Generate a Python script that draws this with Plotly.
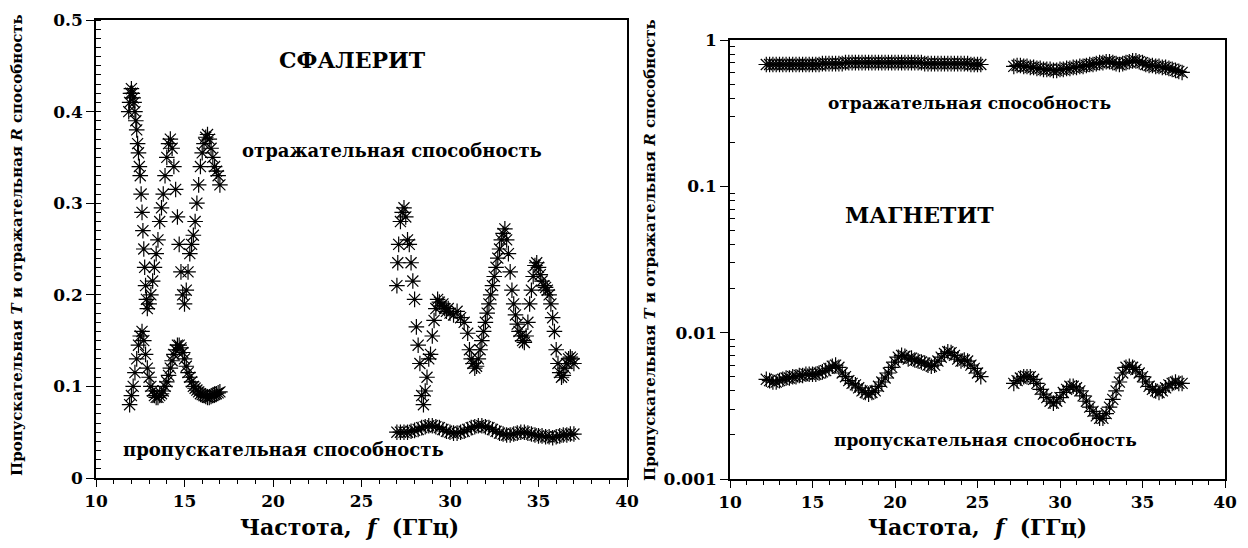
import plotly.graph_objects as go

# ---------------- DATA ----------------
# Sphalerite (left panel) - reflectance R, band 1
sph_R1_f = [11.85, 11.9, 11.95, 12.0, 12.05, 12.1, 12.15, 12.2, 12.25, 12.3, 12.35, 12.4, 12.45, 12.5,
            12.55, 12.6, 12.65, 12.7, 12.75, 12.8, 12.85, 12.9, 13.0, 13.1, 13.2, 13.3, 13.4, 13.5, 13.6,
            13.7, 13.8, 13.9, 14.0, 14.1, 14.2, 14.3, 14.4, 14.5, 14.6, 14.7, 14.8, 14.9, 15.0, 15.1, 15.2,
            15.3, 15.4, 15.5, 15.6, 15.7, 15.8, 15.9, 16.0, 16.1, 16.2, 16.3, 16.4, 16.5, 16.6, 16.7, 16.8,
            16.9, 17.0]
sph_R1_v = [0.40, 0.41, 0.42, 0.425, 0.42, 0.415, 0.41, 0.40, 0.39, 0.38, 0.365, 0.355, 0.34, 0.33,
            0.31, 0.29, 0.27, 0.25, 0.23, 0.21, 0.195, 0.185, 0.19, 0.20, 0.215, 0.23, 0.245, 0.26, 0.28,
            0.295, 0.31, 0.33, 0.35, 0.365, 0.37, 0.36, 0.34, 0.315, 0.285, 0.255, 0.225, 0.20, 0.19, 0.205,
            0.225, 0.245, 0.255, 0.265, 0.28, 0.30, 0.32, 0.34, 0.355, 0.365, 0.372, 0.375, 0.37, 0.36, 0.35,
            0.34, 0.335, 0.33, 0.32]

# Sphalerite - transmission T, band 1
sph_T1_f = [11.9, 12.0, 12.1, 12.2, 12.3, 12.4, 12.5, 12.6, 12.7, 12.8, 12.9, 13.0, 13.1, 13.2, 13.3,
            13.4, 13.5, 13.6, 13.7, 13.8, 13.9, 14.0, 14.1, 14.2, 14.3, 14.4, 14.5, 14.6, 14.7, 14.8, 14.9,
            15.0, 15.1, 15.2, 15.3, 15.4, 15.5, 15.6, 15.7, 15.8, 15.9, 16.0, 16.1, 16.2, 16.3, 16.4, 16.5,
            16.6, 16.7, 16.8, 16.9, 17.0]
sph_T1_v = [0.08, 0.09, 0.10, 0.115, 0.13, 0.145, 0.155, 0.16, 0.15, 0.135, 0.12, 0.11, 0.10, 0.095,
            0.09, 0.088, 0.088, 0.09, 0.092, 0.095, 0.10, 0.105, 0.112, 0.12, 0.128, 0.135, 0.14, 0.145,
            0.145, 0.142, 0.137, 0.13, 0.122, 0.115, 0.11, 0.105, 0.10, 0.098, 0.096, 0.094, 0.092, 0.091,
            0.09, 0.089, 0.088, 0.088, 0.089, 0.09, 0.091, 0.092, 0.093, 0.094]

# Sphalerite - reflectance R, band 2
sph_R2_f = [27.0, 27.05, 27.1, 27.2, 27.3, 27.4, 27.5, 27.6, 27.7, 27.8, 27.9, 28.0, 28.1, 28.2, 28.3,
            28.4, 28.5, 28.6, 28.7, 28.8, 28.9, 29.0, 29.1, 29.2, 29.3, 29.4, 29.5, 29.6, 29.7, 29.8, 29.9,
            30.0, 30.2, 30.4, 30.6, 30.8, 31.0, 31.1, 31.2, 31.3, 31.4, 31.5, 31.6, 31.7, 31.8, 31.9, 32.0,
            32.1, 32.2, 32.3, 32.4, 32.5, 32.6, 32.7, 32.8, 32.9, 33.0, 33.1, 33.2, 33.3, 33.4, 33.5, 33.6,
            33.7, 33.8, 33.9, 34.0, 34.1, 34.2, 34.3, 34.4, 34.5, 34.6, 34.7, 34.8, 34.9, 35.0, 35.1, 35.2,
            35.3, 35.4, 35.5, 35.6, 35.7, 35.8, 35.9, 36.0, 36.1, 36.2, 36.3, 36.4, 36.5, 36.6, 36.7, 36.8,
            36.9, 37.0]
sph_R2_v = [0.21, 0.235, 0.255, 0.28, 0.29, 0.295, 0.285, 0.26, 0.255, 0.235, 0.215, 0.195, 0.165, 0.145,
            0.125, 0.09, 0.08, 0.095, 0.11, 0.13, 0.135, 0.155, 0.172, 0.185, 0.195, 0.192, 0.188, 0.19,
            0.185, 0.182, 0.185, 0.18, 0.178, 0.182, 0.175, 0.17, 0.158, 0.14, 0.13, 0.125, 0.12, 0.122,
            0.13, 0.14, 0.15, 0.16, 0.17, 0.18, 0.19, 0.20, 0.21, 0.22, 0.23, 0.24, 0.25, 0.26, 0.267, 0.272,
            0.26, 0.245, 0.225, 0.205, 0.19, 0.178, 0.168, 0.16, 0.155, 0.15, 0.148, 0.155, 0.17, 0.19,
            0.205, 0.22, 0.232, 0.235, 0.23, 0.222, 0.215, 0.21, 0.208, 0.205, 0.20, 0.19, 0.175, 0.16,
            0.14, 0.125, 0.115, 0.11, 0.112, 0.12, 0.125, 0.13, 0.132, 0.13, 0.125]

# Sphalerite - transmission T, band 2
sph_T2_f = [27.0, 27.2, 27.4, 27.6, 27.8, 28.0, 28.2, 28.4, 28.6, 28.8, 29.0, 29.2, 29.4, 29.6, 29.8,
            30.0, 30.2, 30.4, 30.6, 30.8, 31.0, 31.2, 31.4, 31.6, 31.8, 32.0, 32.2, 32.4, 32.6, 32.8, 33.0,
            33.2, 33.4, 33.6, 33.8, 34.0, 34.2, 34.4, 34.6, 34.8, 35.0, 35.2, 35.4, 35.6, 35.8, 36.0, 36.2,
            36.4, 36.6, 36.8, 37.0]
sph_T2_v = [0.05, 0.05, 0.05, 0.05, 0.051, 0.052, 0.053, 0.055, 0.056, 0.057, 0.057, 0.056, 0.055, 0.053,
            0.051, 0.05, 0.049, 0.049, 0.05, 0.051, 0.053, 0.055, 0.056, 0.057, 0.057, 0.056, 0.055, 0.053,
            0.051, 0.049, 0.048, 0.047, 0.047, 0.048, 0.049, 0.05, 0.05, 0.049, 0.048, 0.047, 0.046, 0.046,
            0.045, 0.045, 0.044, 0.045, 0.046, 0.047, 0.047, 0.048, 0.048]

# Magnetite (right panel) - band 1 frequencies
mag_1_f = [12.2, 12.4, 12.6, 12.8, 13.0, 13.2, 13.4, 13.6, 13.8, 14.0, 14.2, 14.4, 14.6, 14.8, 15.0,
           15.2, 15.4, 15.6, 15.8, 16.0, 16.2, 16.4, 16.6, 16.8, 17.0, 17.2, 17.4, 17.6, 17.8, 18.0, 18.2,
           18.4, 18.6, 18.8, 19.0, 19.2, 19.4, 19.6, 19.8, 20.0, 20.2, 20.4, 20.6, 20.8, 21.0, 21.2, 21.4,
           21.6, 21.8, 22.0, 22.2, 22.4, 22.6, 22.8, 23.0, 23.2, 23.4, 23.6, 23.8, 24.0, 24.2, 24.4, 24.6,
           24.8, 25.0, 25.2]
mag_R1_v = [0.68, 0.68, 0.68, 0.68, 0.68, 0.68, 0.68, 0.68, 0.68, 0.68, 0.68, 0.68, 0.68, 0.68, 0.68,
            0.68, 0.68, 0.69, 0.69, 0.69, 0.69, 0.69, 0.69, 0.69, 0.70, 0.70, 0.70, 0.70, 0.70, 0.70, 0.70,
            0.70, 0.70, 0.70, 0.70, 0.70, 0.70, 0.70, 0.70, 0.70, 0.70, 0.70, 0.70, 0.70, 0.70, 0.70, 0.70,
            0.70, 0.69, 0.69, 0.69, 0.69, 0.69, 0.69, 0.69, 0.69, 0.69, 0.69, 0.69, 0.69, 0.69, 0.69, 0.68,
            0.68, 0.68, 0.68]
mag_T1_v = [0.0048, 0.0047, 0.0046, 0.0046, 0.0047, 0.0048, 0.0049, 0.0049, 0.005, 0.005, 0.0051, 0.0051,
            0.0052, 0.0052, 0.0052, 0.0052, 0.0053, 0.0054, 0.0055, 0.0057, 0.0059, 0.006, 0.0058, 0.0053,
            0.005, 0.0047, 0.0045, 0.0044, 0.0042, 0.004, 0.0039, 0.0038, 0.0039, 0.004, 0.0043, 0.0046,
            0.0049, 0.0053, 0.0058, 0.0063, 0.0068, 0.007, 0.0069, 0.0066, 0.0067, 0.0065, 0.0064, 0.0063,
            0.0062, 0.006, 0.0059, 0.006, 0.0064, 0.0068, 0.0072, 0.0074, 0.0073, 0.007, 0.0066, 0.0064,
            0.0065, 0.0064, 0.006, 0.0057, 0.0053, 0.005]

# Magnetite - band 2 frequencies
mag_2_f = [27.2, 27.4, 27.6, 27.8, 28.0, 28.2, 28.4, 28.6, 28.8, 29.0, 29.2, 29.4, 29.6, 29.8, 30.0,
           30.2, 30.4, 30.6, 30.8, 31.0, 31.2, 31.4, 31.6, 31.8, 32.0, 32.2, 32.4, 32.6, 32.8, 33.0, 33.2,
           33.4, 33.6, 33.8, 34.0, 34.2, 34.4, 34.6, 34.8, 35.0, 35.2, 35.4, 35.6, 35.8, 36.0, 36.2, 36.4,
           36.6, 36.8, 37.0, 37.2, 37.4]
mag_R2_v = [0.66, 0.67, 0.67, 0.66, 0.66, 0.65, 0.65, 0.64, 0.64, 0.63, 0.63, 0.63, 0.62, 0.62, 0.63,
            0.63, 0.64, 0.64, 0.65, 0.65, 0.66, 0.66, 0.67, 0.68, 0.68, 0.69, 0.70, 0.70, 0.71, 0.71, 0.70,
            0.69, 0.68, 0.69, 0.70, 0.71, 0.72, 0.72, 0.71, 0.70, 0.68, 0.67, 0.67, 0.66, 0.66, 0.65, 0.65,
            0.64, 0.63, 0.62, 0.61, 0.60]
mag_T2_v = [0.0045, 0.0047, 0.0049, 0.005, 0.005, 0.005, 0.0048, 0.0045, 0.0041, 0.0038, 0.0036, 0.0034,
            0.0033, 0.0034, 0.0036, 0.0039, 0.0041, 0.0043, 0.0043, 0.0042, 0.004, 0.0037, 0.0034, 0.0031,
            0.0029, 0.0027, 0.0026, 0.0026, 0.0028, 0.0031, 0.0035, 0.004, 0.0046, 0.0053, 0.0058, 0.0059,
            0.0058, 0.0056, 0.0053, 0.005, 0.0046, 0.0043, 0.0041, 0.004, 0.0039, 0.004, 0.0042, 0.0044,
            0.0045, 0.0046, 0.0045, 0.0045]

left_yticks = [0, 0.1, 0.2, 0.3, 0.4, 0.5]
left_yticklabels = ["0", "0.1", "0.2", "0.3", "0.4", "0.5"]
right_yticks = [0.001, 0.01, 0.1, 1]
right_yticklabels = ["0.001", "0.01", "0.1", "1"]
xticks = [10, 15, 20, 25, 30, 35, 40]
xticklabels = ["10", "15", "20", "25", "30", "35", "40"]

# ---------------- FIGURE ----------------
FONT = "DejaVu Serif"
marker = dict(symbol="asterisk-open", size=13, color="black", line=dict(color="black", width=1.2))

fig = go.Figure()
for fx, vy in [(sph_R1_f, sph_R1_v), (sph_T1_f, sph_T1_v), (sph_R2_f, sph_R2_v), (sph_T2_f, sph_T2_v)]:
    fig.add_trace(go.Scatter(x=fx, y=vy, mode="markers", marker=marker, xaxis="x", yaxis="y",
                             showlegend=False, hoverinfo="x+y"))
for fx, vy in [(mag_1_f, mag_R1_v), (mag_1_f, mag_T1_v), (mag_2_f, mag_R2_v), (mag_2_f, mag_T2_v)]:
    fig.add_trace(go.Scatter(x=fx, y=vy, mode="markers", marker=marker, xaxis="x2", yaxis="y2",
                             showlegend=False, hoverinfo="x+y"))

tickfont = dict(family=FONT, size=17, color="black", weight="bold")
axis_common = dict(showline=True, linecolor="black", linewidth=1.5, mirror=True, showgrid=False,
                   zeroline=False, tickfont=tickfont, tickcolor="black", automargin=False)

def bold(labels):
    return ["<b>%s</b>" % s for s in labels]

W, H = 1248, 548
fig.update_layout(
    width=W, height=H, margin=dict(l=0, r=0, t=0, b=0, autoexpand=False),
    paper_bgcolor="white", plot_bgcolor="white",
    font=dict(family=FONT, color="black"),
    xaxis=dict(domain=[96 / W, 627 / W], range=[10, 40], tickvals=xticks, ticktext=bold(xticklabels),
               ticks="outside", ticklen=7,
               minor=dict(dtick=1, ticks="outside", ticklen=4, tickcolor="black"), anchor="y",
               **axis_common),
    yaxis=dict(domain=[70 / H, 528 / H], range=[0, 0.5], tickvals=left_yticks,
               ticktext=bold(left_yticklabels), ticks="outside", ticklen=8,
               minor=dict(dtick=0.01, ticks="inside", ticklen=5, tickcolor="black"), anchor="x",
               **axis_common),
    xaxis2=dict(domain=[730 / W, 1225 / W], range=[10, 40], tickvals=xticks, ticktext=bold(xticklabels),
                ticks="outside", ticklen=7,
                minor=dict(dtick=1, ticks="outside", ticklen=4, tickcolor="black"), anchor="y2",
                **axis_common),
    yaxis2=dict(domain=[69 / H, 508 / H], type="log", range=[-3, 0], tickvals=right_yticks,
                ticktext=bold(right_yticklabels), ticks="outside", ticklen=8,
                minor=dict(tickvals=[m * 10 ** e for e in (-3, -2, -1) for m in range(2, 10)],
                           ticks="inside", ticklen=5, tickcolor="black"),
                anchor="x2", **axis_common),
)

def txt(text, x, y, size, xref="x", yref="y", angle=0):
    fig.add_annotation(text="<b>%s</b>" % text, x=x, y=y, xref=xref, yref=yref, showarrow=False,
                       textangle=angle,
                       font=dict(family=FONT, size=size, color="black", weight="bold"),
                       xanchor="center", yanchor="middle")

# panel annotations
txt("СФАЛЕРИТ", 24.5, 0.456, 22)
txt("отражательная способность", 26.7, 0.358, 18)
txt("пропускательная способность", 20.6, 0.031, 18)
txt("отражательная способность", 24.5, -0.43, 17, xref="x2", yref="y2")
txt("МАГНЕТИТ", 21.5, -1.196, 22, xref="x2", yref="y2")
txt("пропускательная способность", 25.5, -2.734, 17, xref="x2", yref="y2")

# axis titles
xtitle = "Частота,  <i>f</i>  (ГГц)"
ytitle = "Пропускательная <i>T</i> и отражательная <i>R</i> способность"
txt(xtitle, 349 / W, (H - 527) / H, 22, xref="paper", yref="paper")
txt(xtitle, 977 / W, (H - 527) / H, 22, xref="paper", yref="paper")
txt(ytitle, 17 / W, (H - 245) / H, 15, xref="paper", yref="paper", angle=-90)
txt(ytitle, 650 / W, (H - 250) / H, 15, xref="paper", yref="paper", angle=-90)

fig.write_html("out.html")
